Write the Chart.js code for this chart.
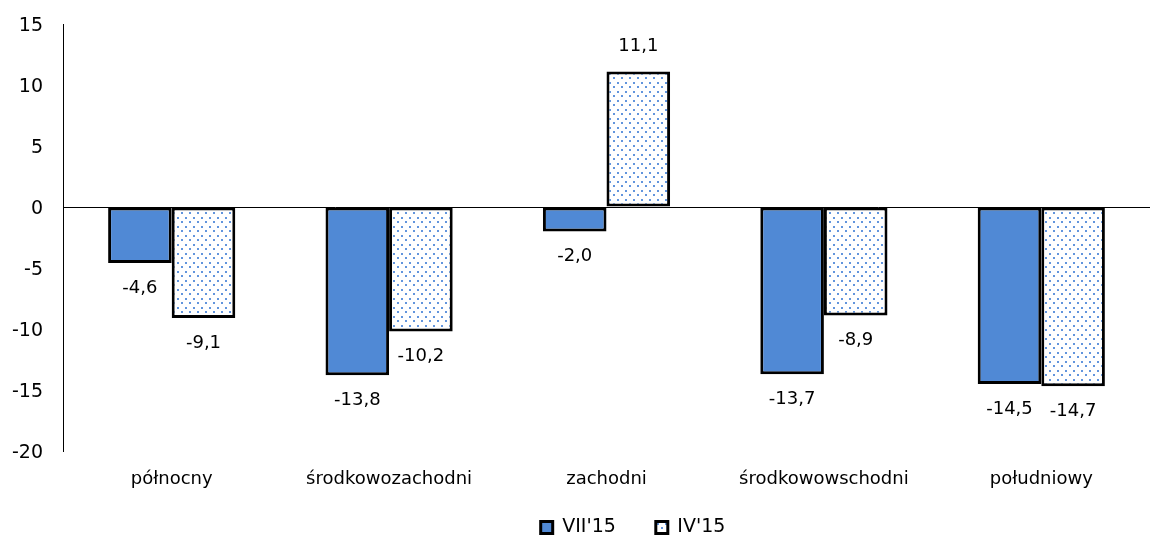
<!DOCTYPE html>
<html>
<head>
<meta charset="utf-8">
<script src="https://cdn.jsdelivr.net/npm/chart.js@4.4.1/dist/chart.umd.min.js"></script>
<style>
  html, body { margin: 0; padding: 0; background: #ffffff; }
  #wrap { width: 1154px; height: 540px; position: relative; }
</style>
</head>
<body>
<div id="wrap"><canvas id="chart" width="1154" height="540"></canvas></div>
<script>
// Regions and the two survey rounds
const categories = ['północny', 'środkowozachodni', 'zachodni', 'środkowowschodni', 'południowy'];
const seriesNames = ["VII'15", "IV'15"];
const valuesVII = [-4.6, -13.8, -2.0, -13.7, -14.5];
const valuesIV = [-9.1, -10.2, 11.1, -8.9, -14.7];
const yTicks = [15, 10, 5, 0, -5, -10, -15, -20];

const FONT = '"DejaVu Sans", Verdana, sans-serif';
const BLUE = '#5089d5';

// Staggered dot fill for the second series
function dotPattern() {
  const c = document.createElement('canvas');
  c.width = 8; c.height = 9;
  const g = c.getContext('2d');
  g.fillStyle = '#ffffff';
  g.fillRect(0, 0, 8, 9);
  g.fillStyle = 'rgba(70,130,215,0.85)';
  g.fillRect(1, 1, 2, 2);
  g.fillRect(5, 5, 2, 2);
  return g.createPattern(c, 'repeat');
}

const fmt = v => v.toFixed(1).replace('.', ',');

// Value labels placed just beyond each bar's end
const valueLabels = {
  id: 'valueLabels',
  afterDatasetsDraw(chart) {
    const ctx = chart.ctx;
    ctx.save();
    ctx.font = '18px ' + FONT;
    ctx.fillStyle = '#000000';
    ctx.textAlign = 'center';
    ctx.textBaseline = 'middle';
    chart.data.datasets.forEach((ds, di) => {
      chart.getDatasetMeta(di).data.forEach((bar, i) => {
        const v = ds.data[i];
        const y = v < 0 ? bar.y + 25 : bar.y - 25;
        ctx.fillText(fmt(v), bar.x, y);
      });
    });
    ctx.restore();
  }
};

// Legend row sits under the category labels, slightly right of centre
const legendRow = {
  id: 'legendRow',
  afterLayout(chart) {
    const lg = chart.legend;
    if (!lg) return;
    lg.top = 478;
    lg.bottom = 548;
    lg.height = 70;
    lg.left += 58;
    lg.right += 58;
  }
};

new Chart(document.getElementById('chart'), {
  type: 'bar',
  data: {
    labels: categories,
    datasets: [
      { label: seriesNames[0], data: valuesVII, backgroundColor: BLUE, borderColor: '#000000', borderWidth: 3, borderSkipped: false },
      { label: seriesNames[1], data: valuesIV, backgroundColor: dotPattern(), borderColor: '#000000', borderWidth: 3, borderSkipped: false }
    ]
  },
  options: {
    responsive: false,
    animation: false,
    devicePixelRatio: 1,
    layout: { padding: { top: 0, right: 4, left: 0, bottom: 0 } },
    datasets: { bar: { categoryPercentage: 0.585, barPercentage: 1.0 } },
    scales: {
      x: {
        afterFit(axis) { axis.height = 40; },
        grid: { display: false },
        border: { display: false },
        ticks: { color: '#000000', font: { family: FONT, size: 18 }, padding: 10 }
      },
      y: {
        min: -20, max: 15,
        afterBuildTicks(axis) { axis.ticks = yTicks.map(v => ({ value: v })); },
        afterFit(axis) { axis.width = 63; axis.paddingTop = 24; },
        border: { display: true, color: '#000000', width: 1 },
        grid: {
          drawTicks: false,
          color: ctx => (ctx.tick && ctx.tick.value === 0 ? '#000000' : 'rgba(0,0,0,0)'),
          lineWidth: 1
        },
        ticks: { color: '#000000', font: { family: FONT, size: 19 }, padding: 20, labelOffset: 2 }
      }
    },
    plugins: {
      tooltip: { enabled: false },
      legend: {
        position: 'bottom',
        maxHeight: 49,
        labels: {
          color: '#000000',
          font: { family: FONT, size: 19 },
          boxWidth: 12, boxHeight: 12,
          padding: 40
        }
      }
    }
  },
  plugins: [valueLabels, legendRow]
});
</script>
</body>
</html>
